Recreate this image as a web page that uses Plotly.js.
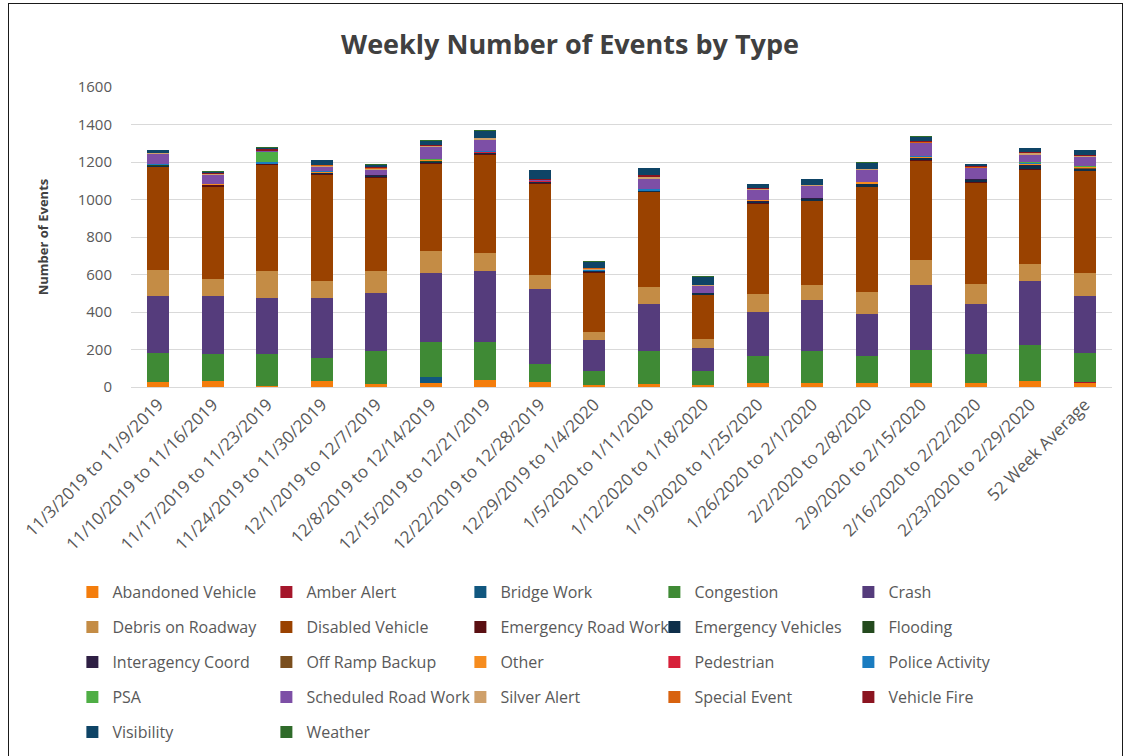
<!DOCTYPE html>
<html><head><meta charset="utf-8">
<script src="https://cdn.plot.ly/plotly-3.0.1.min.js"></script>
<style>
body{margin:0;background:#fff}
#frame{position:absolute;left:8px;top:3px;width:1113px;height:800px;border:1px solid #1a1a1a;pointer-events:none}
</style>
</head><body>
<div id="chart" style="width:1131px;height:756px"></div><div id="frame"></div>
<script>
const categories = ["11/3/2019 to 11/9/2019","11/10/2019 to 11/16/2019","11/17/2019 to 11/23/2019","11/24/2019 to 11/30/2019","12/1/2019 to 12/7/2019","12/8/2019 to 12/14/2019","12/15/2019 to 12/21/2019","12/22/2019 to 12/28/2019","12/29/2019 to 1/4/2020","1/5/2020 to 1/11/2020","1/12/2020 to 1/18/2020","1/19/2020 to 1/25/2020","1/26/2020 to 2/1/2020","2/2/2020 to 2/8/2020","2/9/2020 to 2/15/2020","2/16/2020 to 2/22/2020","2/23/2020 to 2/29/2020","52 Week Average"];

const abandonedVehicle   = [26,32,6,32,15,22,40,26,12,14,13,23,23,23,23,23,32,24];
const amberAlert         = [0,0,0,0,0,0,0,0,0,0,0,0,0,0,0,0,0,1];
const bridgeWork         = [0,0,0,0,0,34,0,0,0,0,0,0,0,0,0,0,0,2];
const congestion         = [158,143,169,125,178,185,201,99,72,179,71,145,170,145,177,152,193,157];
const crash              = [300,309,300,318,309,367,377,400,167,250,125,233,273,224,343,268,340,300];
const debrisOnRoadway    = [141,93,143,93,116,120,99,70,41,92,49,94,76,117,133,108,93,124];
const disabledVehicle    = [549,491,568,565,499,464,519,490,317,507,233,483,450,558,531,539,502,542];
const emergencyRoadWork  = [2,8,1,2,3,2,8,2,2,0,0,3,2,2,2,3,2,2];
const emergencyVehicles  = [5,3,2,8,8,8,3,6,6,2,8,8,8,12,10,10,18,10];
const flooding           = [1,0,0,0,0,1,0,0,0,0,0,0,0,0,0,0,0,1];
const interagencyCoord   = [2,0,1,0,3,2,0,2,0,0,2,5,8,3,2,8,2,2];
const offRampBackup      = [0,0,0,0,0,0,0,0,0,0,0,0,0,0,0,0,0,1];
const other              = [2,4,1,4,0,6,2,0,3,0,0,4,0,7,4,0,6,6];
const pedestrian         = [0,0,0,0,0,0,2,3,0,0,0,0,0,0,0,0,0,1];
const policeActivity     = [1,0,8,6,0,2,9,0,4,12,0,0,0,1,8,0,9,2];
const psa                = [1,0,55,0,0,1,1,0,0,0,0,0,0,0,0,0,1,2];
const scheduledRoadWork  = [55,48,4,20,28,66,57,6,2,53,40,52,64,67,66,55,39,48];
const silverAlert        = [5,5,2,8,4,7,10,1,3,12,2,4,2,3,4,3,10,6];
const specialEvent       = [1,2,1,2,4,1,1,0,6,1,0,2,0,1,2,2,2,2];
const vehicleFire        = [1,1,8,2,4,1,1,3,2,10,0,8,0,1,8,7,2,2];
const visibility         = [14,10,8,24,14,25,38,50,30,36,45,18,35,33,22,13,24,28];
const weather            = [2,2,1,2,6,4,3,2,3,2,4,2,1,5,3,1,2,2];

const seriesNames = ["Abandoned Vehicle","Amber Alert","Bridge Work","Congestion","Crash","Debris on Roadway","Disabled Vehicle","Emergency Road Work","Emergency Vehicles","Flooding","Interagency Coord","Off Ramp Backup","Other","Pedestrian","Police Activity","PSA","Scheduled Road Work","Silver Alert","Special Event","Vehicle Fire","Visibility","Weather"];
const seriesValues = [abandonedVehicle,amberAlert,bridgeWork,congestion,crash,debrisOnRoadway,disabledVehicle,emergencyRoadWork,emergencyVehicles,flooding,interagencyCoord,offRampBackup,other,pedestrian,policeActivity,psa,scheduledRoadWork,silverAlert,specialEvent,vehicleFire,visibility,weather];
const seriesColors = ["#F47D0C","#A5162B","#11577F","#3F8A35","#553C7C","#C48C45","#9A4200","#5A0F12","#0E2F4A","#244A1E","#2E1F44","#7A4E1E","#F68C1E","#D7213A","#1A7CC0","#4FAE45","#7D4FA6","#CFA06A","#D8620F","#8B1420","#0E4466","#2F6B2A"];

const FONT = "'Open Sans', 'Noto Sans', sans-serif";
const traces = seriesNames.map((name, i) => {
  const row = Math.floor(i / 5);
  return {
    type: 'bar', name: name, x: categories, y: seriesValues[i],
    marker: {color: seriesColors[i], line: {width: 0}},
    legend: row === 0 ? 'legend' : 'legend' + (row + 1),
    hoverinfo: 'name+y'
  };
});

const layout = {
  width: 1131, height: 756,
  paper_bgcolor: '#fff', plot_bgcolor: '#fff',
  margin: {l: 131, r: 19, t: 87, b: 369},
  barmode: 'stack', bargap: 0.6,
  font: {family: FONT, color: '#595959'},
  title: {text: 'Weekly Number of Events by Type', font: {family: FONT, size: 27, color: '#404040', weight: 'bold'},
          x: 0.504, xref: 'container', xanchor: 'center', y: 1 - 45/756, yref: 'container', yanchor: 'middle'},
  xaxis: {type: 'category', tickangle: -45, tickfont: {size: 17, color: '#595959'}, showgrid: false,
          showline: true, linecolor: '#d9d9d9', ticks: '', automargin: false},
  yaxis: {range: [0, 1600], dtick: 200, tickfont: {size: 15, color: '#595959'}, gridcolor: '#d9d9d9',
          zeroline: false, showline: false, ticklabelstandoff: 18, automargin: false,
          title: {text: 'Number of Events', font: {size: 13, color: '#404040', weight: 'bold'}, standoff: 26}},
  showlegend: true
};
for (let r = 0; r < 5; r++) {
  const key = r === 0 ? 'legend' : 'legend' + (r + 1);
  layout[key] = {
    orientation: 'h', xref: 'container', yref: 'container', x: 0.064, xanchor: 'left',
    y: 1 - (592 + 35 * r) / 756, yanchor: 'middle', entrywidth: 149, entrywidthmode: 'pixels',
    font: {family: FONT, size: 16, color: '#595959'}, bgcolor: 'rgba(0,0,0,0)', traceorder: 'normal'
  };
}
Plotly.newPlot('chart', traces, layout, {displayModeBar: false, staticPlot: true});
</script>
</body></html>
